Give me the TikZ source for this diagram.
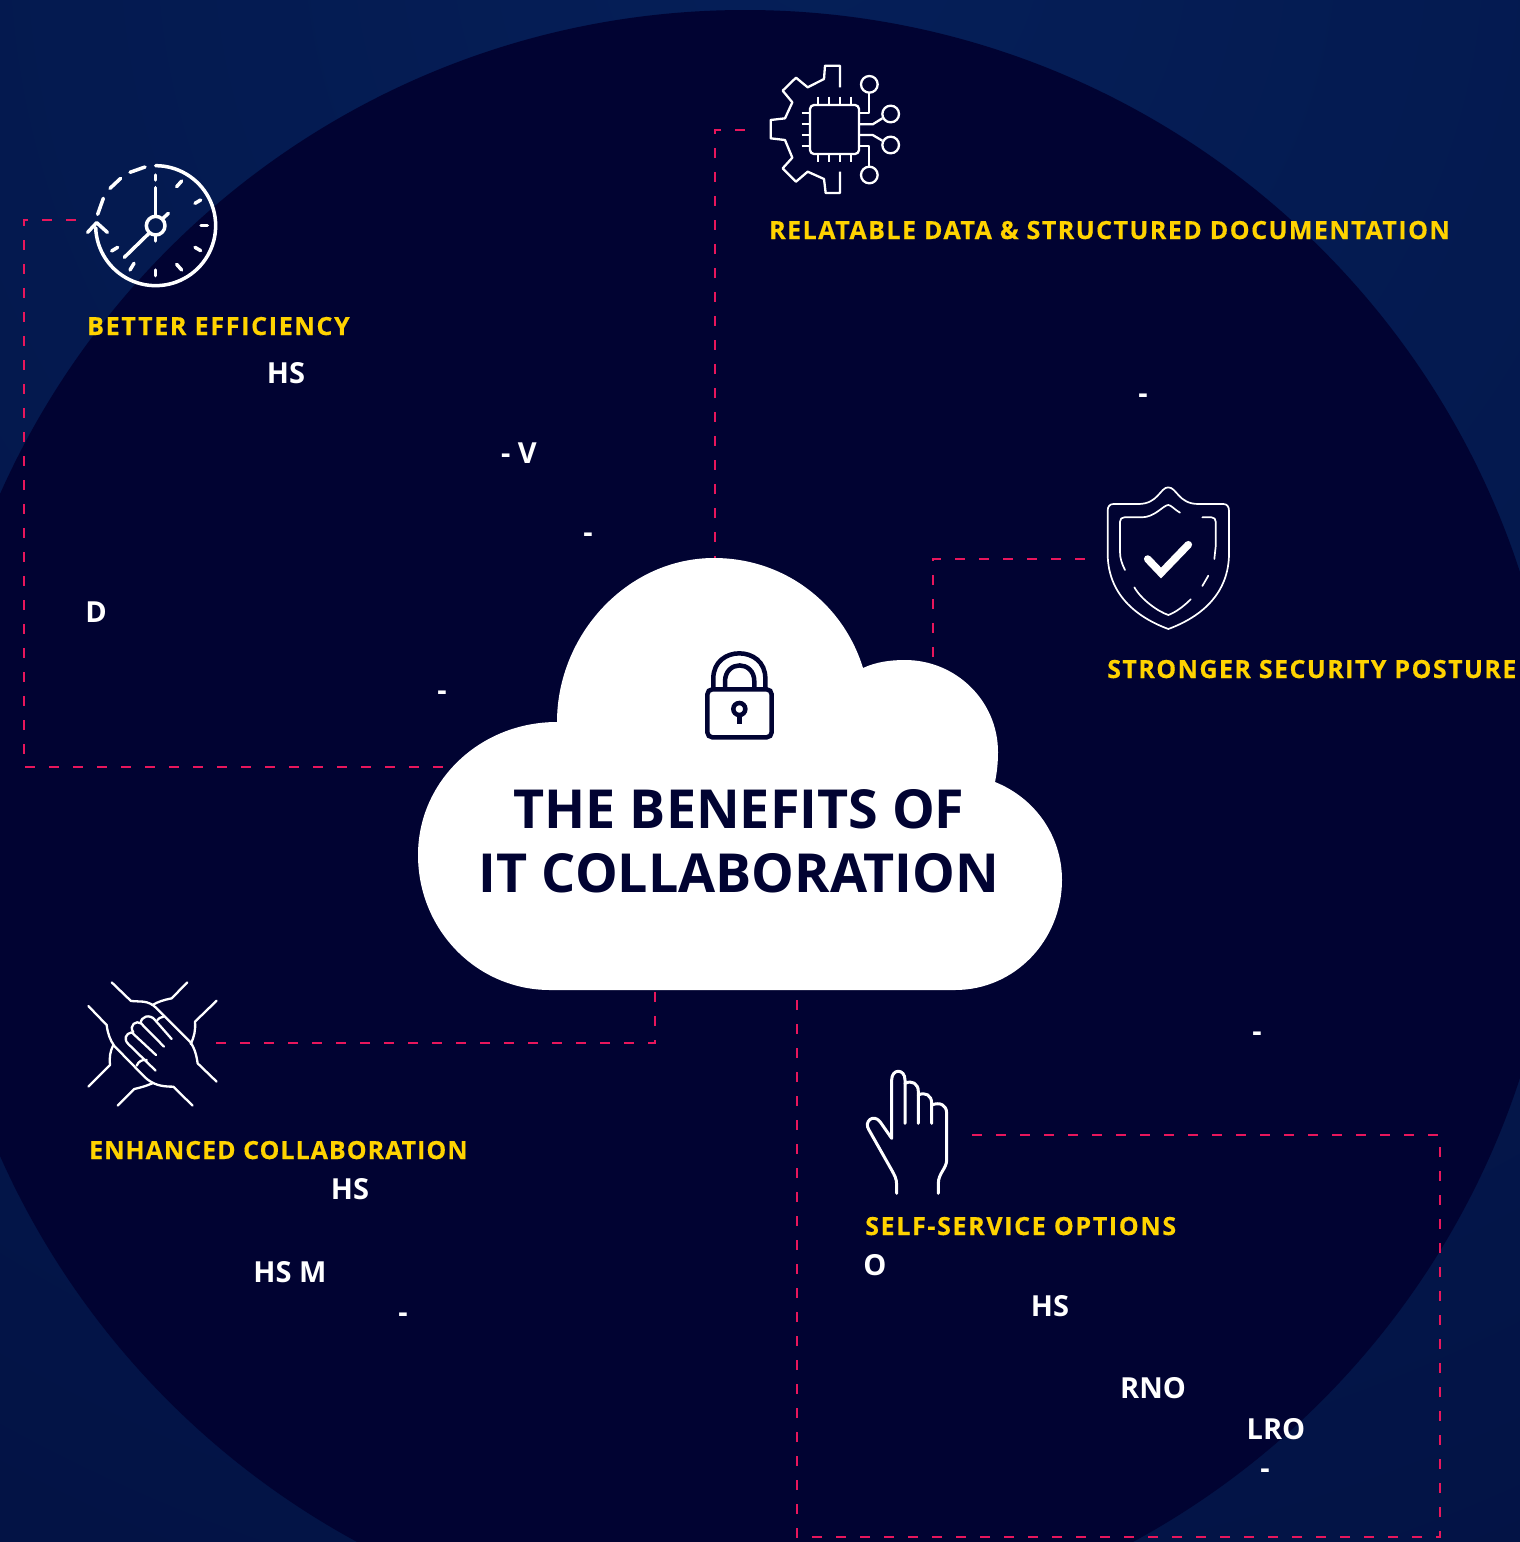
\documentclass[tikz,border=0pt]{standalone}
\usepackage{fontspec}
\setmainfont{Open Sans}
\definecolor{deep}{RGB}{1,3,50}
\definecolor{outerlight}{RGB}{5,31,88}
\definecolor{outerdark}{RGB}{2,12,58}
\definecolor{gold}{RGB}{255,211,0}
\definecolor{rosepink}{RGB}{232,22,92}
\tikzset{
  conn/.style={draw=rosepink,line width=2.8pt,dash pattern=on 10pt off 14pt},
  lab/.style={anchor=base west,inner sep=0pt,text=gold},
  wt/.style={anchor=base,inner sep=0pt,text=white,font=\bfseries\fontsize{29}{34}\selectfont},
  title/.style={anchor=base,inner sep=0pt,text=deep,font=\bfseries\fontsize{53.8}{64}\selectfont},
  ic/.style={draw=white,line cap=round,line join=round},
}
\newcommand{\headtext}[2]{\fontspec{Open Sans}[LetterSpace=#1,FakeBold=0.4]\bfseries\fontsize{25}{30}\selectfont #2}
\begin{document}
\begin{tikzpicture}[x=1pt,y=-1pt]
\useasboundingbox (0,0) rectangle (1520,1542);
\begin{scope}
\clip (0,0) rectangle (1520,1542);
\shade[inner color=outerlight,outer color=outerdark] (820,-60) circle[radius=2800];
\fill[deep] (745,825) circle[radius=815];
\end{scope}

% connector ends
\coordinate (clockEnd) at (76,220);
\coordinate (cloudW) at (470,767);
\coordinate (chipEnd) at (745,130);
\coordinate (cloudN) at (715,570);
\coordinate (shieldEnd) at (1085,559);
\coordinate (cloudNE) at (933,680);
\coordinate (cloudS) at (655,980);
\coordinate (handsEnd) at (216,1043);
\coordinate (cloudSE) at (797,980);
\coordinate (handEnd) at (972,1135);
\draw[conn] (clockEnd) -- (24,220) -- (24,767) -- (cloudW);
\draw[conn] (chipEnd) -- (715,130) -- (cloudN);
\draw[conn] (shieldEnd) -- (933,559) -- (cloudNE);
\draw[conn] (handsEnd) -- (655,1043) -- (cloudS);
\draw[conn] (handEnd) -- (1440,1135) -- (1440,1537) -- (797,1537) -- (cloudSE);

% cloud
\fill[white] (557,722) .. controls (557,635) and (627,558) .. (714,558)
  .. controls (784,558) and (843,603) .. (863,668)
  .. controls (876,662) and (890,660) .. (905,660)
  .. controls (956,660) and (998,701) .. (998,752)
  .. controls (998,763) and (997,772) .. (995,782)
  .. controls (1035,798) and (1062,836) .. (1062,880)
  .. controls (1062,940) and (1015,990) .. (955,990)
  -- (550,990)
  .. controls (477,990) and (418,930) .. (418,855)
  .. controls (418,781) and (480,722) .. (557,722) -- cycle;

% chip icon
\begin{scope}[shift={(760,55)},scale=1/3,ic,line width=2.3pt,line cap=butt]
\draw (240,97) -- (240,32) -- (195,32) -- (192,72) -- (143,97) -- (108,68) -- (68,107) -- (97,142) -- (75,190) -- (32,195) -- (32,250) -- (75,255) -- (97,308) -- (68,340) -- (108,380) -- (143,350) -- (192,372) -- (197,414) -- (240,414) -- (240,350);
\draw[rounded corners=4pt] (150,150) rectangle (297,297);
\foreach \p in {175,208,240,272}{
  \draw (\p,125) -- (\p,150);
  \draw (\p,297) -- (\p,322);
  \draw (125,\p) -- (150,\p);
}
\draw (328,88) circle[radius=25];
\draw (392,177) circle[radius=25];
\draw (392,270) circle[radius=25];
\draw (328,360) circle[radius=25];
\draw (328,113) -- (328,175) -- (297,175);
\draw (297,208) -- (338,208) -- (367,190);
\draw (297,240) -- (338,240) -- (367,257);
\draw (297,272) -- (328,272) -- (328,335);
\end{scope}

% clock icon
\begin{scope}[shift={(75,155)},scale=1/3,ic,line width=3.5pt]
\draw plot[domain=-90:178,samples=70] ({242+180*cos(\x)},{212+180*sin(\x)});
\draw (38,232) -- (65,203) -- (97,232);
\draw (210,36) -- (165,52);
\draw (137,70) -- (105,100);
\draw (85,130) -- (68,178);
\draw (242,60) -- (242,75);
\draw (305,95) -- (320,78);
\draw (360,145) -- (377,135);
\draw (378,211) -- (397,211);
\draw (360,277) -- (377,287);
\draw (305,328) -- (320,345);
\draw (242,345) -- (242,362);
\draw (165,345) -- (177,325);
\draw (110,288) -- (128,277);
\draw (242,212) circle[radius=28];
\draw (242,98) -- (242,183);
\draw (262,192) -- (280,175);
\draw (242,240) -- (242,258);
\draw (148,307) -- (222,235);
\end{scope}

% shield icon
\begin{scope}[shift={(1095,480)},scale=1/3,ic,line width=1.7pt]
\draw (220,22) .. controls (195,22) and (190,72) .. (130,72) -- (55,72)
  .. controls (44,72) and (38,80) .. (38,92) -- (38,220)
  .. controls (38,340) and (120,410) .. (220,447)
  .. controls (320,410) and (402,340) .. (402,220) -- (402,92)
  .. controls (402,80) and (396,72) .. (385,72) -- (310,72)
  .. controls (250,72) and (245,22) .. (220,22) -- cycle;
\draw (90,270) .. controls (80,250) and (75,235) .. (75,215) -- (75,125)
  .. controls (75,117) and (80,112) .. (88,112) -- (140,112)
  .. controls (180,112) and (205,75) .. (220,75)
  .. controls (228,75) and (240,90) .. (255,98);
\draw (322,112) -- (350,112) .. controls (358,112) and (362,118) .. (362,125) -- (362,200) -- (358,237);
\draw (322,318) -- (340,287);
\draw (118,322) .. controls (140,360) and (190,395) .. (220,405) .. controls (240,398) and (265,380) .. (287,358);
\draw[line width=7.5pt,line join=miter] (158,237) -- (198,279) -- (280,194);
\end{scope}

% handshake icon
\begin{scope}[shift={(75,970)},scale=1/3,ic,line width=2.3pt]
\draw (110,37) -- (168,93) -- (205,95) .. controls (220,97) and (232,102) .. (245,115) -- (345,215) .. controls (360,235) and (365,260) .. (368,280) -- (425,335);
\draw (337,37) -- (290,85) .. controls (265,90) and (250,95) .. (232,105);
\draw (425,92) -- (360,155) .. controls (362,180) and (358,200) .. (347,222);
\draw (40,108) -- (95,165) .. controls (98,190) and (105,210) .. (118,228) -- (210,322) .. controls (235,345) and (260,350) .. (295,350) -- (353,407);
\draw (40,350) -- (105,285) .. controls (103,260) and (105,245) .. (115,225);
\draw (128,407) -- (178,357) .. controls (200,352) and (215,347) .. (232,340);
\draw (242,302) -- (160,222) .. controls (145,208) and (152,190) .. (170,187) -- (243,255);
\draw (175,187) .. controls (160,165) and (185,150) .. (198,160) -- (267,230);
\draw (198,160) .. controls (195,140) and (225,130) .. (240,150) -- (290,207);
\draw (247,150) .. controls (250,145) and (257,142) .. (265,140);
\draw (185,287) .. controls (190,275) and (200,268) .. (215,270);
\end{scope}

% hand icon
\begin{scope}[shift={(855,1060)},scale=1/3,ic,line width=3pt]
\draw (125,400) -- (125,375) .. controls (125,355) and (118,345) .. (110,330) -- (42,210)
  .. controls (25,185) and (55,160) .. (75,185) -- (110,235) -- (110,60)
  .. controls (110,25) and (150,25) .. (150,60) -- (150,190);
\draw (150,70) .. controls (170,60) and (190,70) .. (190,95) -- (190,190);
\draw (190,105) .. controls (210,95) and (230,105) .. (230,130) -- (230,190);
\draw (230,135) .. controls (255,125) and (275,135) .. (275,160) -- (275,300) .. controls (275,325) and (250,340) .. (250,370) -- (250,400);
\end{scope}

% lock icon
\begin{scope}[shift={(690,640)},scale=1/3,draw=deep]
\draw[line width=4.5pt,rounded corners=5pt] (52,148) rectangle (245,292);
\draw[line width=4.5pt] (70,148) -- (70,115) .. controls (70,15) and (226,15) .. (226,115) -- (226,148);
\draw[line width=4.5pt] (105,148) -- (105,125) .. controls (105,60) and (193,60) .. (193,125) -- (193,148);
\draw[line width=4.5pt] (148,207) circle[radius=18];
\draw[line width=5pt] (148,225) -- (148,252);
\end{scope}

% title
\node[title] (t1) at (739,828) {THE BENEFITS OF};
\node[title] (t2) at (739,892) {IT COLLABORATION};

% headings
\node[lab] (h1) at (87,335) {\headtext{6.8}{BETTER EFFICIENCY}};
\node[lab] (h2) at (769,239) {\headtext{5.9}{RELATABLE DATA \& STRUCTURED DOCUMENTATION}};
\node[lab] (h3) at (1107,678) {\headtext{5.8}{STRONGER SECURITY POSTURE}};
\node[lab] (h4) at (89,1159) {\headtext{4}{ENHANCED COLLABORATION}};
\node[lab] (h5) at (865,1235) {\headtext{6.6}{SELF-SERVICE OPTIONS}};

% white fragments
\node[wt] (a1) at (286,383) {HS};
\node[wt] (a2) at (519,463) {- V};
\node[wt] (a3) at (588,542) {-};
\node[wt] (a4) at (96,622) {D};
\node[wt] (a5) at (442,700) {-};
\node[wt] (b1) at (1143,403) {-};
\node[wt] (c1) at (1257,1041) {-};
\node[wt] (d1) at (350,1199) {HS};
\node[wt] (d2) at (290,1282) {HS M};
\node[wt] (d3) at (403,1322) {-};
\node[wt] (e1) at (875,1275) {O};
\node[wt] (e2) at (1050,1316) {HS};
\node[wt] (e3) at (1153,1398) {RNO};
\node[wt] (e4) at (1276,1439) {LRO};
\node[wt] (e5) at (1265,1478) {-};
\end{tikzpicture}
\end{document}
